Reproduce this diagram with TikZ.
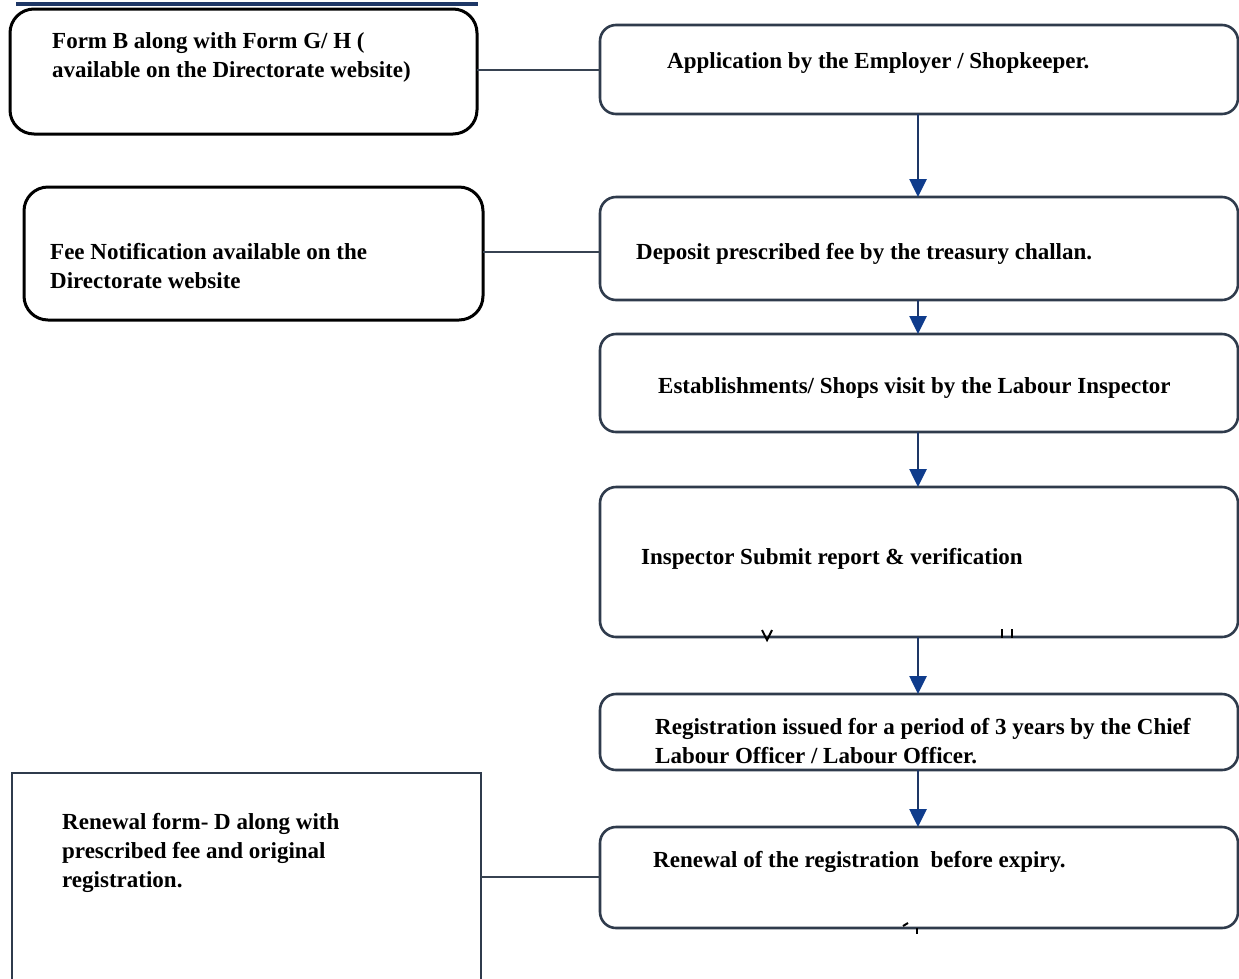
\documentclass[tikz,border=0pt]{standalone}
\usepackage{fontspec}
\setmainfont{Liberation Serif}
\usetikzlibrary{arrows.meta}
\definecolor{edge}{HTML}{2F3B4C}
\definecolor{flow}{HTML}{1E3766}
\definecolor{tip}{HTML}{0F3C8C}
\begin{document}
\begin{tikzpicture}[x=1pt,y=-1pt,
  txt/.style={anchor=base west,inner sep=0pt,align=left,font=\fontsize{23}{29}\selectfont\bfseries},
  sidebox/.style={draw=black,line width=3pt,rounded corners=24pt},
  stepbox/.style={draw=edge,line width=2.6pt,rounded corners=16pt},
  plainbox/.style={draw=edge,line width=2.8pt},
  link/.style={draw=edge!90!gray,line width=2.8pt},
  flowarrow/.style={draw=flow,line width=2.6pt,-{Triangle[length=18pt,width=17pt,color=tip]}}]
\useasboundingbox (0,0) rectangle (1239,978);
\fill[white] (0,0) rectangle (1239,978);

% left-hand document boxes
\draw[flow,line width=4pt] (16,4) -- (478,4);
\draw[sidebox] (10,9) rectangle (477,134);
\coordinate (formB) at (477,70);
\draw[sidebox] (24,187) rectangle (483,320);
\coordinate (feeN) at (483,252);
\draw[plainbox] (12,773) rectangle (481,990);
\coordinate (renF) at (481,877);

% multi-line texts are placed by the baseline of their last line
\node[txt] (tformB) at (52,77) {Form B along with Form G/ H (\\available on the Directorate website)};
\node[txt] (tfee) at (50,288) {Fee Notification available on the\\Directorate website};
\node[txt] (tren) at (62,887) {Renewal form- D along with\\prescribed fee and original\\registration.};

% main flow boxes
\draw[stepbox] (600,25) rectangle (1238,114);
\draw[stepbox] (600,197) rectangle (1238,300);
\draw[stepbox] (600,334) rectangle (1238,432);
\draw[stepbox] (600,487) rectangle (1238,637);
\draw[stepbox] (600,694) rectangle (1238,770);
\draw[stepbox] (600,827) rectangle (1238,928);

\coordinate (s1t) at (918,25);  \coordinate (s1b) at (918,114);
\coordinate (s2t) at (918,197); \coordinate (s2b) at (918,300);
\coordinate (s3t) at (918,334); \coordinate (s3b) at (918,432);
\coordinate (s4t) at (918,487); \coordinate (s4b) at (918,637);
\coordinate (s5t) at (918,694); \coordinate (s5b) at (918,770);
\coordinate (s6t) at (918,827);
\coordinate (s1l) at (600,70);
\coordinate (s2l) at (600,252);
\coordinate (s6l) at (600,877);

\node[txt] (t1) at (667,68) {Application by the Employer / Shopkeeper.};
\node[txt] (t2) at (636,259) {Deposit prescribed fee by the treasury challan.};
\node[txt] (t3) at (658,393) {Establishments/ Shops visit by the Labour Inspector};
\node[txt] (t4) at (641,564) {Inspector Submit report \& verification};
\node[txt] (t5) at (655,763) {Registration issued for a period of 3 years by the Chief\\Labour Officer / Labour Officer.};
\node[txt] (t6) at (653,867) {Renewal of the registration\ \ before expiry.};

% connectors
\draw[link] (formB) -- (s1l);
\draw[link] (feeN) -- (s2l);
\draw[link] (renF) -- (s6l);
\draw[flowarrow] (s1b) -- (s2t);
\draw[flowarrow] (s2b) -- (s3t);
\draw[flowarrow] (s3b) -- (s4t);
\draw[flowarrow] (s4b) -- (s5t);
\draw[flowarrow] (s5b) -- (s6t);

% small marks along the lower box edges
\draw[black,line width=2pt] (762,630) -- (767,640) -- (772,630);
\draw[black,line width=2pt] (1002,629) -- (1002,638);
\draw[black,line width=2pt] (1012,629) -- (1012,638);
\draw[black,line width=2pt] (903,926) -- (908,923);
\draw[black,line width=1.8pt] (917,928) -- (917,934);
\end{tikzpicture}
\end{document}
